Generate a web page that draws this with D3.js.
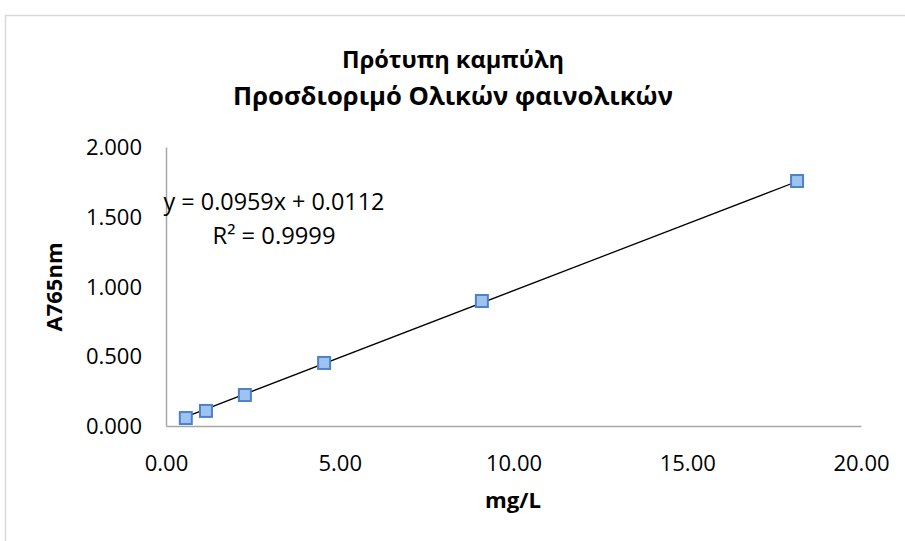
<!DOCTYPE html>
<html><head><meta charset="utf-8">
<script src="https://cdn.jsdelivr.net/npm/d3@7"></script>
<style>body{margin:0;background:#fff}svg{display:block}</style>
</head><body><svg id="c" width="905" height="541"></svg>
<script>
const xValues = [0.57, 1.15, 2.27, 4.55, 9.09, 18.16];
const yValues = [0.057, 0.108, 0.222, 0.452, 0.896, 1.756];
const xTicks = [0, 5, 10, 15, 20];
const yTicks = [0, 0.5, 1.0, 1.5, 2.0];
const titleLines = ["Πρότυπη καμπύλη", "Προσδιοριμό Ολικών φαινολικών"];
const slope = 0.0959, intercept = 0.0112, r2 = 0.9999;
const xTitle = "mg/L", yTitle = "A765nm";

const svg = d3.select("#c");
const font = "'Open Sans', 'Noto Sans', sans-serif";
const x = d3.scaleLinear().domain([0, 20]).range([166, 861]);
const y = d3.scaleLinear().domain([0, 2]).range([426, 147]);

svg.append("rect").attr("x", 5.5).attr("y", 15.5).attr("width", 910).attr("height", 540)
  .attr("fill", "none").attr("stroke", "#d9d9d9").attr("stroke-width", 1.5);

function fit(sel, w) {
  const n = sel.node(); const l = n.getComputedTextLength();
  const fs = parseFloat(sel.attr("font-size"));
  sel.attr("font-size", fs * w / l);
}

// title
const tw = [222, 440];
titleLines.forEach((t, i) => {
  const s = svg.append("text").attr("x", 453).attr("y", 68 + i * 37).attr("text-anchor", "middle")
    .attr("font-family", font).attr("font-weight", "bold").attr("font-size", 20).attr("fill", "#000").text(t);
  fit(s, tw[i]);
});

// axes
const xa = svg.append("g").attr("transform", "translate(0,426)")
  .call(d3.axisBottom(x).tickValues(xTicks).tickSize(0).tickPadding(0).tickFormat(d3.format(".2f")));
xa.select(".domain").attr("stroke", "#a6a6a6").attr("stroke-width", 1.5);
xa.selectAll("text").attr("font-family", font).attr("font-size", 22).attr("fill", "#000")
  .attr("dy", 0).attr("y", 45);

const ya = svg.append("g").attr("transform", "translate(166,0)")
  .call(d3.axisLeft(y).tickValues(yTicks).tickSize(0).tickPadding(24).tickFormat(d3.format(".3f")));
ya.select(".domain").attr("stroke", "#a6a6a6").attr("stroke-width", 1.5);
ya.selectAll("text").attr("font-family", font).attr("font-size", 22).attr("fill", "#000").attr("dy", "0.35em");

// axis titles
const xt = svg.append("text").attr("x", 513).attr("y", 508).attr("text-anchor", "middle")
  .attr("font-family", font).attr("font-weight", "bold").attr("font-size", 20).text(xTitle);
fit(xt, 56);
const yt = svg.append("text").attr("transform", "translate(62,287) rotate(-90)").attr("text-anchor", "middle")
  .attr("font-family", font).attr("font-weight", "bold").attr("font-size", 20).text(yTitle);
fit(yt, 89);

// trendline
const x0 = d3.min(xValues), x1 = d3.max(xValues);
svg.append("line").attr("x1", x(x0)).attr("y1", y(slope * x0 + intercept))
  .attr("x2", x(x1)).attr("y2", y(slope * x1 + intercept)).attr("stroke", "#000").attr("stroke-width", 1.3);

// markers
const ms = 12;
svg.append("g").selectAll("rect").data(xValues.map((v, i) => [v, yValues[i]])).join("rect")
  .attr("x", d => x(d[0]) - ms / 2).attr("y", d => y(d[1]) - ms / 2)
  .attr("width", ms).attr("height", ms)
  .attr("fill", "#9dc3f0").attr("stroke", "#4f81c7").attr("stroke-width", 2);

// equation
const e1 = svg.append("text").attr("x", 274).attr("y", 210).attr("text-anchor", "middle")
  .attr("font-family", font).attr("font-size", 20).text(`y = ${slope}x + ${intercept}`);
fit(e1, 221);
const e2 = svg.append("text").attr("x", 274).attr("y", 244).attr("text-anchor", "middle")
  .attr("font-family", font).attr("font-size", 20).text(`R² = ${r2}`);
fit(e2, 123);
</script></body></html>
